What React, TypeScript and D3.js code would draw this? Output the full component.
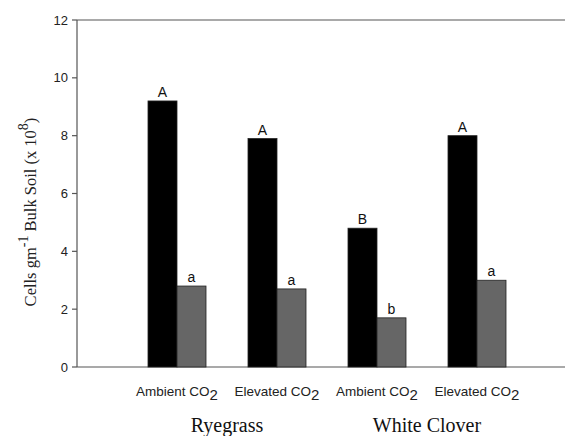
import * as d3 from "d3";

const conditions = ["Ambient", "Elevated", "Ambient ", "Elevated "];
const conditionLabels = ["Ambient CO", "Elevated CO", "Ambient CO", "Elevated CO"];
const crops = ["Ryegrass", "White Clover"];
const series = ["dark", "grey"];
const darkValues = [9.2, 7.9, 4.8, 8.0];
const greyValues = [2.8, 2.7, 1.7, 3.0];
const darkLetters = ["A", "A", "B", "A"];
const greyLetters = ["a", "a", "b", "a"];
const yTicks = [0, 2, 4, 6, 8, 10, 12];

export default function App() {
    const width = 565;
    const height = 436;
    const axisX = 77;
    const top = 20;
    const bottom = 367;

    const y = d3.scaleLinear().domain([0, 12]).range([bottom, top]);

    const x = d3.scaleBand()
        .domain(conditions)
        .range([127, 527])
        .paddingInner(0.42)
        .paddingOuter(0.21);

    const sub = d3.scaleBand().domain(series).range([0, x.bandwidth()]);

    const colors = d3.scaleOrdinal<string, string>().domain(series).range(["#000000", "#666666"]);

    const sans = "'Liberation Sans', Arial, sans-serif";
    const serif = "'Liberation Serif', 'Times New Roman', serif";

    return (
        <svg width={width} height={height} style={{ position: "absolute", left: 0, top: 0, background: "#fff" }}>
            {/* frame: top line, y axis, baseline */}
            <line x1={axisX} x2={width} y1={top} y2={top} stroke="#555" strokeWidth={1.2} />
            <line x1={axisX} x2={axisX} y1={top} y2={bottom} stroke="#555" strokeWidth={1.2} />
            <line x1={axisX} x2={width} y1={bottom} y2={bottom} stroke="#555" strokeWidth={1.2} />

            {yTicks.map(t => (
                <g key={t}>
                    <line x1={axisX - 5} x2={axisX} y1={y(t)} y2={y(t)} stroke="#555" strokeWidth={1.2} />
                    <text x={axisX - 9} y={y(t)} dy="0.35em" textAnchor="end" fontSize={13} fontFamily={sans} fill="#222">
                        {t}
                    </text>
                </g>
            ))}

            {conditions.map((c, i) => {
                const x0 = x(c) ?? 0;
                const vals = [darkValues[i], greyValues[i]];
                const letters = [darkLetters[i], greyLetters[i]];
                return (
                    <g key={c}>
                        {series.map((s, j) => (
                            <g key={s}>
                                <rect
                                    x={x0 + (sub(s) ?? 0)}
                                    y={y(vals[j])}
                                    width={sub.bandwidth()}
                                    height={bottom - y(vals[j])}
                                    fill={colors(s)}
                                    stroke="#222"
                                    strokeWidth={0.8}
                                />
                                <text
                                    x={x0 + (sub(s) ?? 0) + sub.bandwidth() / 2}
                                    y={y(vals[j]) - 4}
                                    textAnchor="middle"
                                    fontSize={14}
                                    fontFamily={sans}
                                    fill="#111"
                                >
                                    {letters[j]}
                                </text>
                            </g>
                        ))}
                        <text
                            x={x0 + x.bandwidth() / 2}
                            y={396}
                            textAnchor="middle"
                            fontSize={13.5}
                            fontFamily={sans}
                            fill="#222"
                        >
                            {conditionLabels[i]}
                            <tspan fontSize={15} dy={4}>2</tspan>
                        </text>
                    </g>
                );
            })}

            {crops.map((crop, k) => {
                const a = x(conditions[k * 2]) ?? 0;
                const b = (x(conditions[k * 2 + 1]) ?? 0) + x.bandwidth();
                return (
                    <text key={crop} x={(a + b) / 2} y={432} textAnchor="middle" fontSize={20} fontFamily={serif} fill="#111">
                        {crop}
                    </text>
                );
            })}

            <text
                transform={`translate(36, 212) rotate(-90)`}
                textAnchor="middle"
                fontSize={16.5}
                fontFamily={serif}
                fill="#222"
            >
                Cells gm
                <tspan fontSize={14} dy={-8}>-1</tspan>
                <tspan dy={8}>  Bulk Soil (x 10</tspan>
                <tspan fontSize={14} dy={-8}>8</tspan>
                <tspan dy={8}>)</tspan>
            </text>
        </svg>
    );
}
